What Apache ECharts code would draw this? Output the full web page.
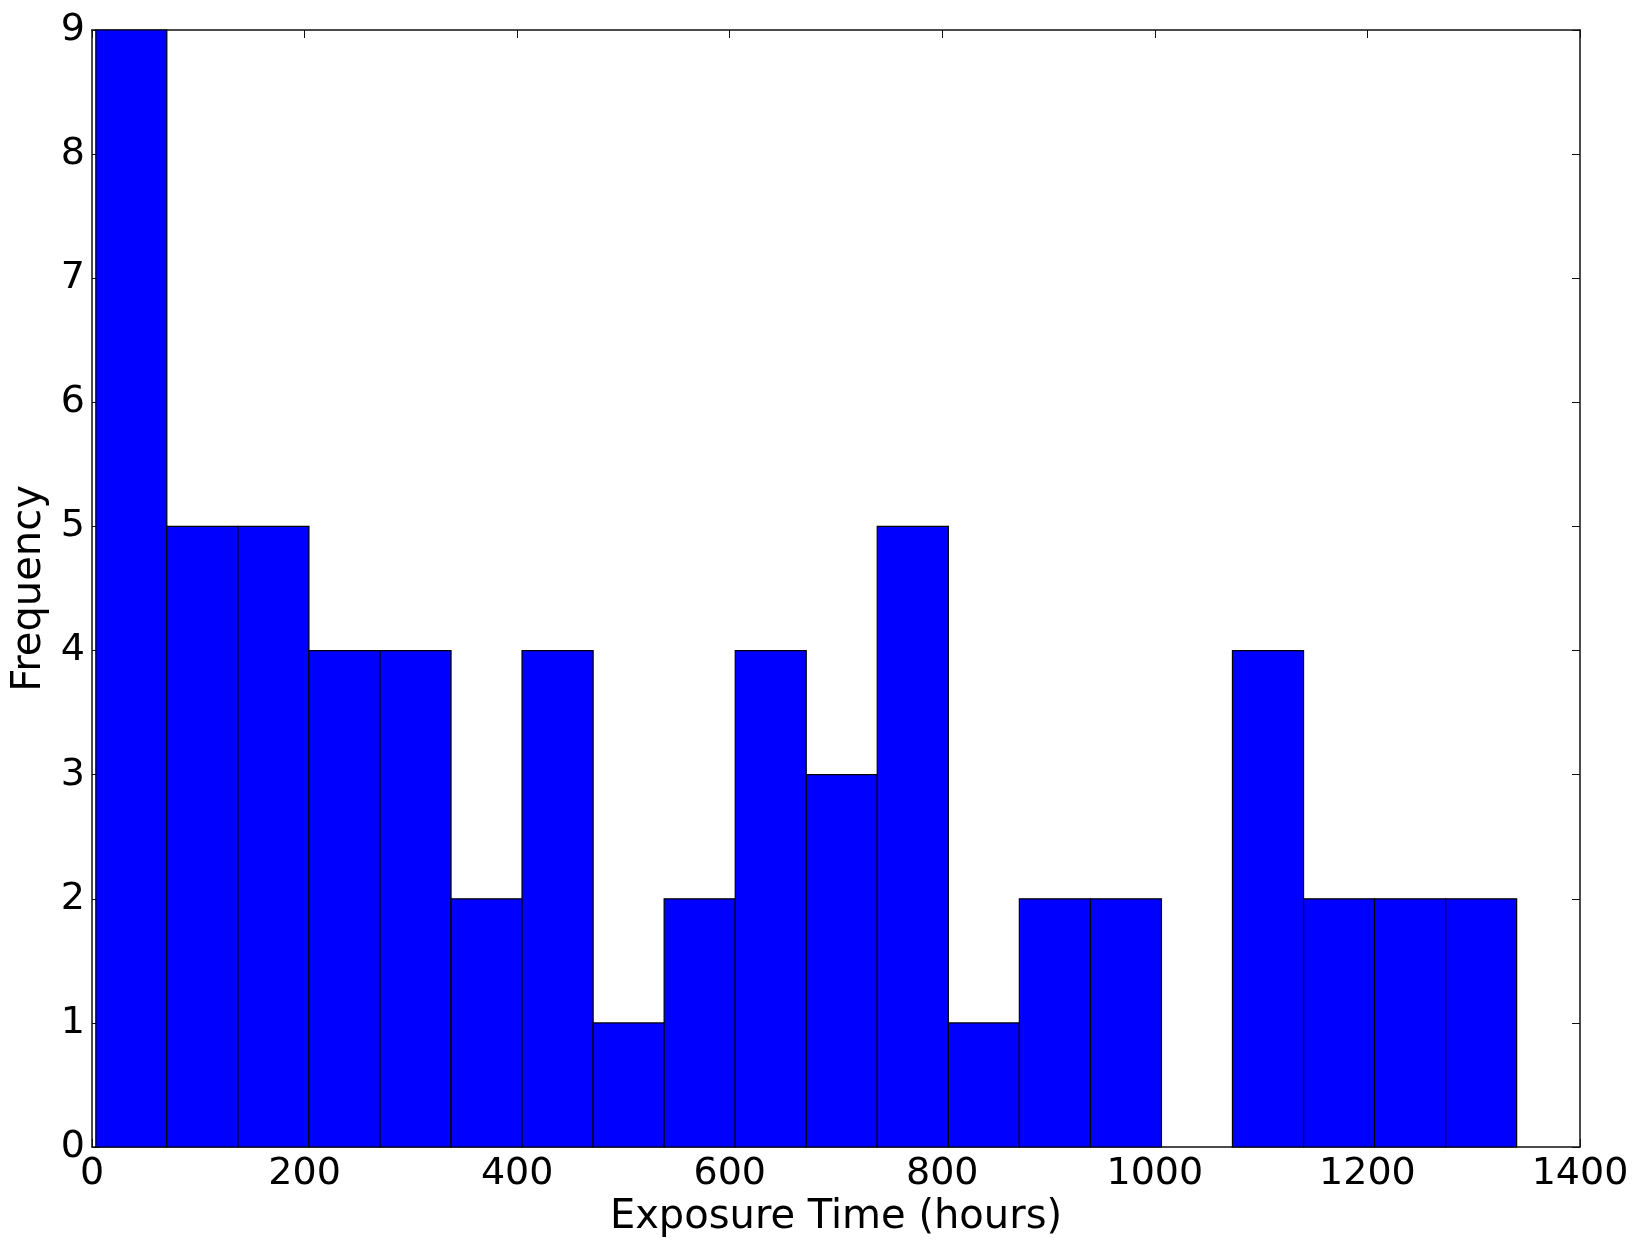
<!DOCTYPE html>
<html>
<head>
<meta charset="utf-8">
<script src="https://cdn.jsdelivr.net/npm/echarts@6/dist/echarts.min.js"></script>
<style>html,body{margin:0;padding:0;background:#fff}#c{width:1632px;height:1243px}</style>
</head>
<body>
<div id="c"></div>
<script>
const binEdges = [3.6, 70.4, 137.3, 204.1, 271.0, 337.8, 404.6, 471.5, 538.3, 605.2, 672.0, 738.8, 805.7, 872.5, 939.4, 1006.2, 1073.0, 1139.9, 1206.7, 1273.6, 1340.4];
const counts = [9, 5, 5, 4, 4, 2, 4, 1, 2, 4, 3, 5, 1, 2, 2, 0, 4, 2, 2, 2];
const xTicks = [0, 200, 400, 600, 800, 1000, 1200, 1400];
const yTicks = [0, 1, 2, 3, 4, 5, 6, 7, 8, 9];
const xTitle = 'Exposure Time (hours)';
const yTitle = 'Frequency';

const rows = counts.map((c, i) => [binEdges[i], binEdges[i + 1], c]);
const FONT = 'DejaVu Sans';
const axisCommon = {
  axisLine: { show: true, onZero: false, lineStyle: { color: '#111', width: 1.5 } },
  axisTick: { show: true, inside: true, length: 8, lineStyle: { color: '#111', width: 1 } },
  splitLine: { show: false }
};
const plain = v => String(v);
const chart = echarts.init(document.getElementById('c'));
chart.setOption({
  animation: false,
  backgroundColor: '#fff',
  grid: { left: 92, right: 52, top: 30, bottom: 96, containLabel: false },
  xAxis: [
    Object.assign({
      type: 'value', min: xTicks[0], max: xTicks[xTicks.length - 1], interval: 200,
      position: 'bottom',
      name: xTitle, nameLocation: 'middle', nameGap: 51,
      nameTextStyle: { fontFamily: FONT, fontSize: 40, color: '#000' },
      axisLabel: { fontFamily: FONT, fontSize: 38, color: '#000', margin: 8, formatter: plain }
    }, axisCommon),
    Object.assign({
      type: 'value', min: xTicks[0], max: xTicks[xTicks.length - 1], interval: 200,
      position: 'top', axisLabel: { show: false }
    }, axisCommon)
  ],
  yAxis: [
    Object.assign({
      type: 'value', min: yTicks[0], max: yTicks[yTicks.length - 1], interval: 1,
      position: 'left',
      name: yTitle, nameLocation: 'middle', nameGap: 40,
      nameTextStyle: { fontFamily: FONT, fontSize: 40, color: '#000' },
      axisLabel: { fontFamily: FONT, fontSize: 38, color: '#000', margin: 7, formatter: plain }
    }, axisCommon),
    Object.assign({
      type: 'value', min: yTicks[0], max: yTicks[yTicks.length - 1], interval: 1,
      position: 'right', axisLabel: { show: false }
    }, axisCommon)
  ],
  series: [{
    type: 'custom',
    xAxisIndex: 0, yAxisIndex: 0,
    data: rows,
    encode: { x: [0, 1], y: 2 },
    renderItem: function (params, api) {
      const h = api.value(2);
      if (!h) return null;
      const p0 = api.coord([api.value(0), 0]);
      const p1 = api.coord([api.value(1), h]);
      return {
        type: 'rect',
        shape: { x: p0[0], y: p1[1], width: p1[0] - p0[0], height: p0[1] - p1[1] },
        style: { fill: '#0000ff', stroke: '#000', lineWidth: 1.2 }
      };
    }
  }]
});
</script>
</body>
</html>
